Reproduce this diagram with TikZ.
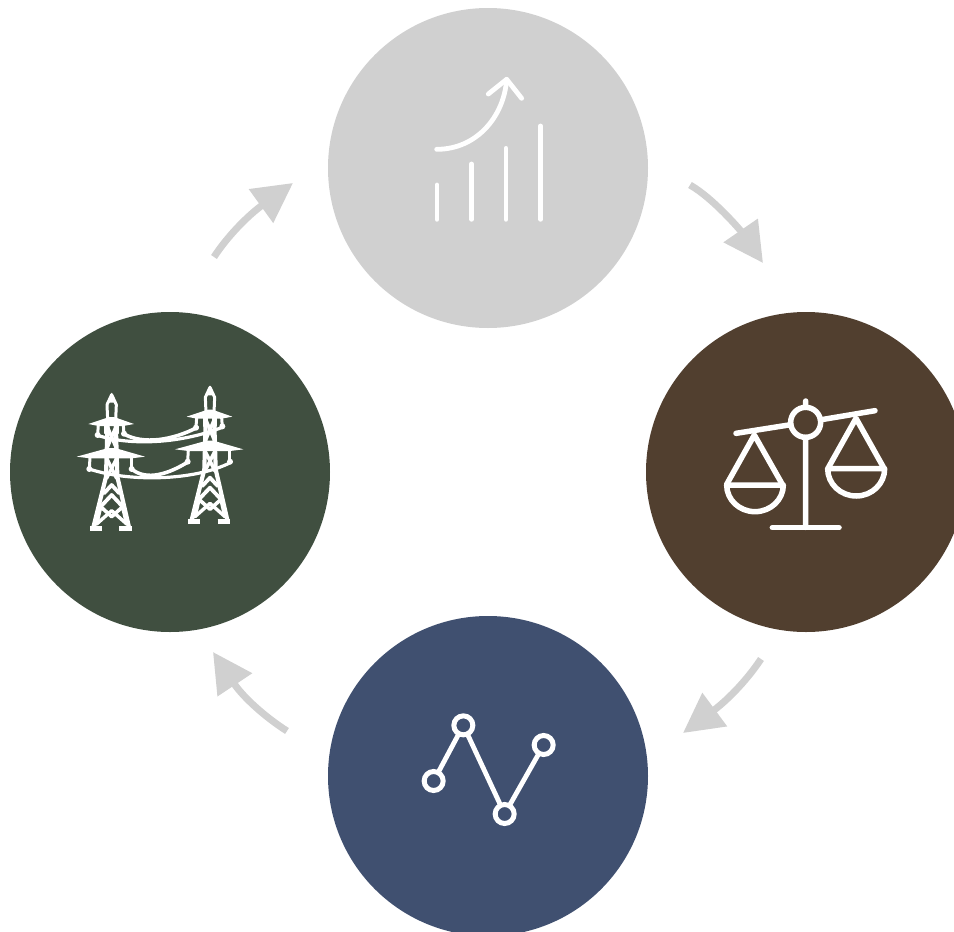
\documentclass[tikz,border=0pt]{standalone}
\usetikzlibrary{arrows.meta}
\definecolor{cgrey}{HTML}{D0D0D0}
\definecolor{cbrown}{HTML}{513F2F}
\definecolor{cblue}{HTML}{405070}
\definecolor{cgreen}{HTML}{404F40}
\tikzset{
  big/.style={circle,minimum size=320pt,inner sep=0pt,outer sep=0pt,draw=none},
  flow/.style={draw=cgrey,line width=7pt,-{Triangle[length=39.5pt,width=40pt,fill=cgrey]}},
  ico/.style={draw=white,line cap=round,line join=round,line width=#1},
  ico/.default=4.8pt,
  ring/.style={circle,draw=white,line width=#1,inner sep=0pt,outer sep=0pt},
  ring/.default=5pt,
}
\newcommand{\towerdraw}{%
    % spire
    \draw[ico=3pt] (155,74) -- (141,104) -- (143,150);
    \draw[ico=3pt] (155,74) -- (169,104) -- (167,150);
    \fill[white] (155,68) -- (144,98) -- (166,98) -- cycle;
    % upper arm
    \fill[white] (85,162) -- (148,141) -- (162,141) -- (222,162) -- (190,168) -- (115,168) -- cycle;
    \draw[ico=3pt] (115,165) -- (113,193);
    \draw[ico=3pt] (190,165) -- (192,193);
    \draw[ico=2.4pt] (137,165) -- (137,190);
    \draw[ico=2.4pt] (172,165) -- (172,190);
    \fill[white] (113,195) circle (9);
    \fill[white] (192,191) circle (9);
    \draw[ico=3.4pt] (140,165) -- (170,237);
    \draw[ico=3.4pt] (170,165) -- (140,237);
    % lower arm
    \fill[white] (50,260) -- (145,234) -- (165,234) -- (255,260) -- (215,265) -- (90,265) -- cycle;
    \draw[ico=3pt] (90,262) -- (88,296);
    \draw[ico=3pt] (215,264) -- (215,296);
    \fill[white] (88,297) circle (9);
    \fill[white] (215,297) circle (9);
    % body
    \draw[ico=4.2pt,line cap=butt] (143,150) -- (138,320) -- (100,472);
    \draw[ico=4.2pt,line cap=butt] (167,150) -- (172,320) -- (207,472);
    \draw[ico=3.4pt] (140,265) -- (170,325);
    \draw[ico=3.4pt] (170,265) -- (140,325);
    \draw[ico=3.8pt] (132,370) -- (155,345) -- (178,370);
    \draw[ico=3.8pt] (122,410) -- (155,375) -- (188,410);
    \draw[ico=3.6pt] (110,462) -- (122,410) -- (155,440) -- (188,410) -- (200,462);
    \draw[ico=3.4pt] (110,462) -- (155,422) -- (200,462);
    \draw[ico=5pt,line cap=butt] (90,475) -- (125,475);
    \draw[ico=5pt,line cap=butt] (178,475) -- (215,475);
}
\begin{document}
\begin{tikzpicture}[x=1pt,y=-1pt]
\useasboundingbox (0,0) rectangle (954,932);
\clip (0,0) rectangle (954,932);
\node[big,fill=cgrey]  (top)    at (488,168) {};
\node[big,fill=cbrown] (right)  at (806,472) {};
\node[big,fill=cblue]  (bottom) at (488,776) {};
\node[big,fill=cgreen] (left)   at (170,472) {};

% flow arrows
\coordinate (a1s) at (690,185); \coordinate (a1e) at (763,263);
\coordinate (a2s) at (761,659); \coordinate (a2e) at (683,733);
\coordinate (a3s) at (287,731); \coordinate (a3e) at (213,652);
\coordinate (a4s) at (214,257); \coordinate (a4e) at (293,183);
\draw[flow] (a1s) .. controls (713,198) and (741,231) .. (a1e);
\draw[flow] (a2s) .. controls (745,683) and (725,702) .. (a2e);
\draw[flow] (a3s) .. controls (265,717) and (243,697) .. (a3e);
\draw[flow] (a4s) .. controls (229,234) and (250,214) .. (a4e);

% growth icon
\begin{scope}[shift={(410,60)},scale=1/3]
\draw[ico] (81,375) -- (81,478);
\draw[ico] (185,312) -- (185,478);
\draw[ico] (288,265) -- (288,478);
\draw[ico] (392,198) -- (392,478);
\draw[ico] (80,268) .. controls (200,268) and (282,170) .. (290,58);
\draw[ico] (235,102) -- (290,58) -- (335,115);
\end{scope}

% scales icon
\begin{scope}[shift={(710,390)},scale=1/3]
\node[ring=5.5pt,minimum size=30pt] (hub) at (287,97) {};
\coordinate (bl) at (78,130); \coordinate (br) at (495,62);
\draw[ico=5.5pt] (bl) -- (hub);
\draw[ico=5.5pt] (hub) -- (br);
\draw[ico=5.5pt] (hub.north) -- (287,33);
\draw[ico=5.5pt] (hub.south) -- (287,412);
\draw[ico=5.5pt] (187,413) -- (387,413);
\draw[ico=5.5pt] (50,283) -- (133,135) -- (217,283);
\draw[ico=5.5pt] (50,285) -- (220,285) arc[start angle=0,end angle=180,x radius=85,y radius=80];
\draw[ico=5.5pt] (355,233) -- (438,85) -- (521,233);
\draw[ico=5.5pt] (353,236) -- (524,236) arc[start angle=0,end angle=180,x radius=85.5,y radius=82];
\end{scope}

% line icon
\begin{scope}[shift={(410,700)},scale=1/3]
\node[ring,minimum size=19pt] (p1) at (71,243) {};
\node[ring,minimum size=19pt] (p2) at (160,76) {};
\node[ring,minimum size=19pt] (p3) at (284,342) {};
\node[ring,minimum size=19pt] (p4) at (401,135) {};
\draw[ico] (p1) -- (p2);
\draw[ico] (p2) -- (p3);
\draw[ico] (p3) -- (p4);
\end{scope}

% pylons icon
\begin{scope}[shift={(60,370)},scale=1/3]
\towerdraw
\begin{scope}[shift={(295,-22)}]
\towerdraw
\end{scope}
\draw[ico=3.6pt] (192,192) .. controls (250,225) and (340,210) .. (412,172);
\draw[ico=3.2pt] (113,196) .. controls (200,225) and (350,225) .. (487,172);
\draw[ico=3.6pt] (215,297) .. controls (260,335) and (330,310) .. (385,275);
\draw[ico=3.2pt] (88,297) .. controls (200,335) and (400,335) .. (513,277);
\end{scope}
\end{tikzpicture}
\end{document}
